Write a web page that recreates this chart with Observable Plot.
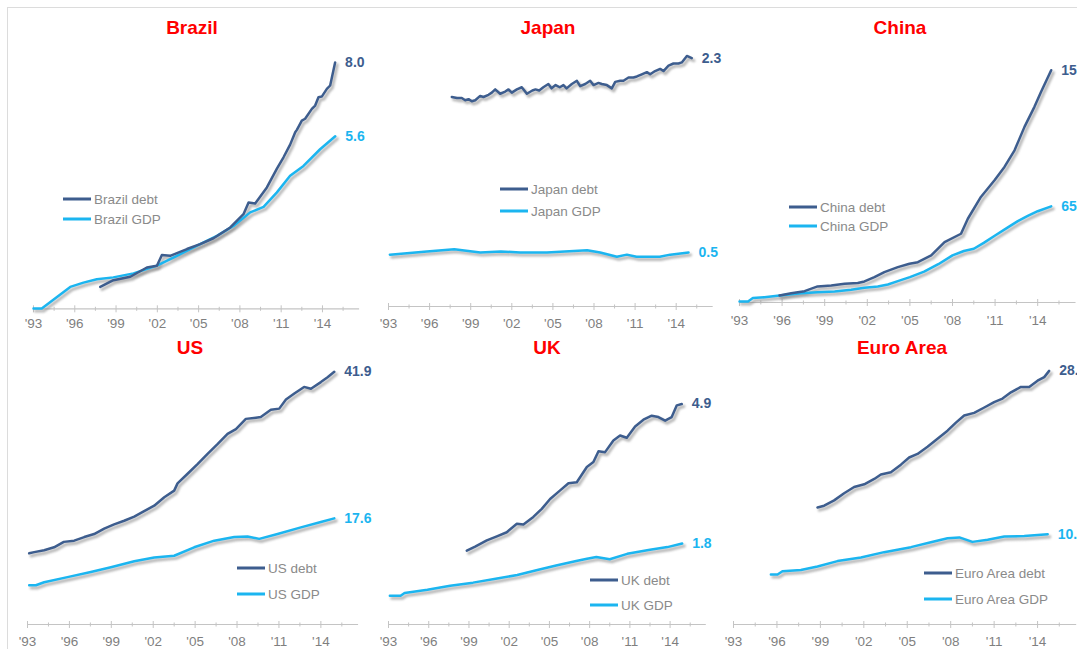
<!DOCTYPE html>
<html>
<head>
<meta charset="utf-8">
<script src="https://cdn.jsdelivr.net/npm/d3@7"></script>
<script src="https://cdn.jsdelivr.net/npm/@observablehq/plot@0.6"></script>
<style>
  html, body { margin: 0; padding: 0; background: #fff; overflow: hidden; }
  #page { position: relative; width: 1077px; height: 649px; overflow: hidden;
          font-family: "Liberation Sans", Arial, sans-serif; }
  #border { position: absolute; left: 7px; top: 7px; right: -5px; bottom: -5px;
            border-top: 1.5px solid #dcdcdc; border-left: 1.5px solid #dcdcdc; }
  .title { position: absolute; transform: translate(-50%, -50%); color: #ff0000;
           font-weight: bold; font-size: 19px; white-space: nowrap; }
  .legend { position: absolute; display: flex; align-items: center; font-size: 13.5px;
            color: #8a8a8a; white-space: nowrap; transform: translateY(-50%); }
  .legend .swatch { display: inline-block; width: 28px; margin-right: 3px; }
  .panel { position: absolute; }
</style>
</head>
<body>
<div id="page"><div id="border"></div></div>
<script>
// ---- axis ticks ----
const tickYears = [1993, 1996, 1999, 2002, 2005, 2008, 2011, 2014];
const tickLabels = ["'93", "'96", "'99", "'02", "'05", "'08", "'11", "'14"];
const minorTickYears = [1994.5, 1997.5, 2000.5, 2003.5, 2006.5, 2009.5, 2012.5, 2015.5];

// ---- series: [year, value] ----
const brazilDebt = [[1997.85,0.71],[1998.81,0.93],[2000.03,1.04],[2001.24,1.34],[2001.97,1.40],[2002.33,1.75],[2002.93,1.72],[2004.15,1.94],[2005.11,2.10],[2006.08,2.29],[2007.3,2.64],[2008.26,3.07],[2008.63,3.45],[2009.11,3.42],[2009.96,3.94],[2010.69,4.55],[2011.17,4.92],[2011.65,5.33],[2012.02,5.73],[2012.14,5.81],[2012.5,6.11],[2012.74,6.17],[2013.23,6.49],[2013.47,6.60],[2013.71,6.87],[2013.95,6.89],[2014.32,7.14],[2014.56,7.25],[2014.92,8.0]];
const brazilGDP = [[1993.0,0.01],[1993.6,0.01],[1995.67,0.71],[1996.63,0.85],[1997.6,0.96],[1998.8,1.02],[2000.27,1.15],[2001.97,1.40],[2003.42,1.72],[2005.11,2.10],[2006.33,2.37],[2007.53,2.69],[2008.75,3.13],[2009.72,3.31],[2010.69,3.78],[2011.65,4.32],[2012.62,4.64],[2013.83,5.18],[2014.93,5.6]];

const japanDebt = [[1997.62,1.94],[1998.0,1.93],[1998.35,1.93],[1998.6,1.91],[1998.84,1.92],[1999.08,1.90],[1999.33,1.91],[1999.69,1.95],[1999.93,1.94],[2000.3,1.96],[2000.54,1.98],[2000.79,2.01],[2001.15,1.97],[2001.52,1.99],[2001.76,2.01],[2002.0,1.98],[2002.37,2.01],[2002.73,2.03],[2003.1,1.97],[2003.5,2.00],[2003.73,2.01],[2004.0,2.00],[2004.3,2.03],[2004.67,2.06],[2004.9,2.02],[2005.2,2.05],[2005.5,2.03],[2005.77,2.05],[2006.0,2.02],[2006.38,2.06],[2006.75,2.09],[2006.99,2.04],[2007.36,2.06],[2007.72,2.09],[2007.96,2.05],[2008.33,2.07],[2008.57,2.06],[2008.94,2.05],[2009.3,2.02],[2009.55,2.08],[2009.91,2.09],[2010.15,2.09],[2010.52,2.12],[2010.88,2.12],[2011.13,2.13],[2011.49,2.15],[2011.86,2.17],[2012.1,2.15],[2012.46,2.18],[2012.83,2.20],[2013.07,2.18],[2013.44,2.23],[2013.8,2.25],[2014.17,2.25],[2014.41,2.26],[2014.78,2.32],[2015.14,2.30]];
const japanGDP = [[1993.1,0.48],[1995.8,0.51],[1997.8,0.53],[1999.7,0.50],[2001.2,0.51],[2002.6,0.50],[2004.56,0.50],[2007.5,0.52],[2008.45,0.50],[2009.67,0.46],[2010.4,0.48],[2011.1,0.46],[2012.8,0.46],[2013.56,0.48],[2014.9,0.50]];

const chinaDebt = [[1995.82,4.8],[1996.64,6.3],[1997.58,7.7],[1998.5,10.9],[1999.46,11.6],[2000.4,12.7],[2001.33,13.2],[2001.8,14.3],[2002.5,17.2],[2003.2,20.6],[2004.15,24.0],[2004.97,26.3],[2005.56,27.4],[2006.5,32.0],[2007.44,41.0],[2008.6,46.7],[2009.08,56.9],[2010.0,71.7],[2010.96,83.0],[2011.66,92.1],[2012.37,103.4],[2013.07,119.3],[2013.77,132.9],[2014.24,143.1],[2014.95,157.8]];
const chinaGDP = [[1993.0,0.7],[1993.6,0.7],[1993.94,3.0],[1994.76,3.6],[1995.82,4.8],[1997.34,6.3],[1998.5,7.0],[1999.7,7.5],[2000.86,8.6],[2001.8,10.0],[2002.74,10.9],[2003.45,12.2],[2004.15,14.5],[2005.0,17.2],[2006.0,21.0],[2007.0,26.0],[2008.0,32.0],[2008.8,35.0],[2009.5,36.5],[2010.2,40.5],[2011.0,45.5],[2011.9,51.0],[2012.6,55.3],[2013.3,58.8],[2014.0,62.0],[2014.95,65.3]];

const usDebt = [[1993.12,11.8],[1993.48,12.0],[1994.19,12.3],[1994.9,12.8],[1995.6,13.7],[1996.34,13.9],[1997.06,14.5],[1997.77,15.0],[1998.49,15.9],[1999.2,16.6],[1999.92,17.2],[2000.64,17.9],[2001.35,18.8],[2002.07,19.7],[2002.79,21.1],[2003.5,22.2],[2003.74,23.4],[2004.46,25.0],[2005.17,26.6],[2005.89,28.3],[2006.6,29.9],[2007.32,31.6],[2007.92,32.4],[2008.63,34.1],[2009.35,34.3],[2009.7,34.4],[2010.42,35.6],[2011.02,35.8],[2011.5,37.3],[2012.1,38.3],[2012.8,39.4],[2013.29,39.1],[2014.0,40.2],[2014.48,41.0],[2014.96,41.9]];
const usGDP = [[1993.12,6.5],[1993.6,6.5],[1994.19,7.0],[1995.86,7.85],[1997.53,8.7],[1998.97,9.5],[2000.64,10.5],[2002.07,11.1],[2003.5,11.4],[2004.93,12.8],[2006.37,13.9],[2007.8,14.5],[2008.75,14.6],[2009.59,14.2],[2010.9,15.0],[2012.57,16.1],[2014.0,17.0],[2014.96,17.6]];

const ukDebt = [[1998.84,1.64],[1999.46,1.73],[2000.33,1.87],[2001.08,1.96],[2001.82,2.05],[2002.57,2.24],[2003.06,2.22],[2003.8,2.39],[2004.43,2.57],[2005.05,2.79],[2005.8,2.98],[2006.42,3.14],[2007.04,3.16],[2007.79,3.50],[2008.28,3.61],[2008.66,3.85],[2009.15,3.83],[2009.77,4.09],[2010.27,4.20],[2010.77,4.15],[2011.39,4.40],[2012.01,4.55],[2012.63,4.64],[2013.13,4.61],[2013.63,4.53],[2014.12,4.61],[2014.5,4.87],[2014.87,4.9]];
const ukGDP = [[1993.1,0.64],[1993.9,0.64],[1994.2,0.70],[1995.9,0.77],[1997.6,0.86],[1999.3,0.93],[2001.1,1.02],[2002.6,1.10],[2004.1,1.21],[2005.5,1.31],[2007.0,1.41],[2007.8,1.46],[2008.5,1.50],[2009.5,1.45],[2010.8,1.57],[2012.5,1.66],[2013.8,1.72],[2014.9,1.8]];

const euroDebt = [[1998.8,13.1],[1999.26,13.3],[1999.95,13.9],[2000.64,14.7],[2001.33,15.4],[2002.03,15.7],[2002.72,16.3],[2003.18,16.8],[2003.87,17.05],[2004.56,17.9],[2005.13,18.7],[2005.71,19.1],[2006.4,19.9],[2007.09,20.8],[2007.78,21.7],[2008.36,22.6],[2008.93,23.4],[2009.62,23.7],[2010.32,24.3],[2011.0,24.9],[2011.58,25.3],[2012.16,26.0],[2012.85,26.6],[2013.42,26.6],[2014.0,27.3],[2014.46,27.7],[2014.8,28.4]];
const euroGDP = [[1995.58,5.6],[1996.04,5.6],[1996.38,5.97],[1997.65,6.1],[1998.8,6.5],[2000.18,7.1],[2001.8,7.5],[2003.4,8.1],[2005.25,8.66],[2006.63,9.2],[2007.78,9.65],[2008.6,9.75],[2009.5,9.25],[2010.55,9.5],[2011.7,9.85],[2013.08,9.9],[2014.7,10.1]];

const countries = ["Brazil", "Japan", "China", "US", "UK", "Euro Area"];
const debtSeries = [brazilDebt, japanDebt, chinaDebt, usDebt, ukDebt, euroDebt];
const gdpSeries = [brazilGDP, japanGDP, chinaGDP, usGDP, ukGDP, euroGDP];

// ---- panel geometry (page pixels) ----
const panels = [
  {frameLeft: 33.3,  pxPerYear: 13.76, axisY: 308.3, pxPerUnit: 30.8,  frameTop: 40,  labelY: 323,   title: [192, 28],  legend: [63, 199, 219]},
  {frameLeft: 388.3, pxPerYear: 13.7,  axisY: 306,   pxPerUnit: 108,   frameTop: 40,  labelY: 323,   title: [548, 28],  legend: [500, 189, 211]},
  {frameLeft: 738.7, pxPerYear: 14.2,  axisY: 302,   pxPerUnit: 1.472, frameTop: 40,  labelY: 320.5, title: [900, 28],  legend: [789, 207, 226]},
  {frameLeft: 26.7,  pxPerYear: 13.97, axisY: 624,   pxPerUnit: 6.03,  frameTop: 358, labelY: 641.5, title: [190, 348], legend: [237, 568, 594]},
  {frameLeft: 388.3, pxPerYear: 13.41, axisY: 624,   pxPerUnit: 45,    frameTop: 358, labelY: 641.5, title: [547, 348], legend: [590, 580, 605]},
  {frameLeft: 733,   pxPerYear: 14.48, axisY: 624,   pxPerUnit: 8.93,  frameTop: 358, labelY: 641.5, title: [902, 348], legend: [924, 573, 599]}
];

const X_START = 1993, X_END = 2016.7;
const DEBT_COLOR = "#3d5d8e";
const GDP_COLOR = "#1bb5f0";
const AXIS_COLOR = "#c4c4c4";
const TICK_TEXT = "#7f7f7f";
const fmt = d3.format(".1f");
const page = document.getElementById("page");

const xy = {x: d => d[0], y: d => d[1]};
const shadow = data => Plot.line(data, {
  ...xy, stroke: "#808080", strokeWidth: 3.2, strokeOpacity: 0.55,
  dx: 2, dy: 2.5, imageFilter: "blur(1.3px)"
});
const endLabel = (data, color) => Plot.text([data[data.length - 1]], {
  ...xy, text: d => fmt(d[1]), dx: 10, textAnchor: "start",
  fill: color, fontWeight: "bold", fontSize: 14
});

panels.forEach((p, i) => {
  const debt = debtSeries[i], gdp = gdpSeries[i];
  const ml = 14, mr = 75, mt = 6, mb = 30;
  const innerW = p.pxPerYear * (X_END - X_START);
  const innerH = p.axisY - p.frameTop;
  const yMax = innerH / p.pxPerUnit;

  const svg = Plot.plot({
    width: ml + innerW + mr,
    height: mt + innerH + mb,
    marginLeft: ml, marginRight: mr, marginTop: mt, marginBottom: mb,
    x: {domain: [X_START, X_END]},
    y: {domain: [0, yMax], axis: null},
    style: {background: "transparent", overflow: "visible", maxWidth: "none",
            fontFamily: "'Liberation Sans', Arial, sans-serif"},
    marks: [
      Plot.ruleY([0], {stroke: AXIS_COLOR, strokeWidth: 1.2}),
      Plot.axisX(tickYears, {tickSize: 7, dy: -3, fill: "none", stroke: AXIS_COLOR, label: null}),
      Plot.axisX(minorTickYears, {tickSize: 4, dy: -1.5, fill: "none", stroke: AXIS_COLOR, label: null}),
      Plot.text(tickYears, {x: d => d, y: () => 0, text: (d, j) => tickLabels[j],
        dy: p.labelY - p.axisY, fill: TICK_TEXT, fontSize: 13.5}),
      shadow(gdp),
      shadow(debt),
      Plot.line(gdp, {...xy, stroke: GDP_COLOR, strokeWidth: 2.5}),
      Plot.line(debt, {...xy, stroke: DEBT_COLOR, strokeWidth: 2.5}),
      endLabel(debt, DEBT_COLOR),
      endLabel(gdp, GDP_COLOR)
    ]
  });
  svg.classList.add("panel");
  svg.style.left = (p.frameLeft - ml) + "px";
  svg.style.top = (p.frameTop - mt) + "px";
  page.appendChild(svg);

  // panel title
  const t = document.createElement("div");
  t.className = "title";
  t.textContent = countries[i];
  t.style.left = p.title[0] + "px";
  t.style.top = p.title[1] + "px";
  page.appendChild(t);

  // legend: debt then GDP
  [[countries[i] + " debt", DEBT_COLOR, 3, p.legend[1]],
   [countries[i] + " GDP", GDP_COLOR, 2.5, p.legend[2]]].forEach(([label, color, h, y]) => {
    const row = document.createElement("div");
    row.className = "legend";
    row.style.left = p.legend[0] + "px";
    row.style.top = y + "px";
    const sw = document.createElement("span");
    sw.className = "swatch";
    sw.style.height = h + "px";
    sw.style.background = color;
    const tx = document.createElement("span");
    tx.textContent = label;
    row.appendChild(sw);
    row.appendChild(tx);
    page.appendChild(row);
  });
});
</script>
</body>
</html>
